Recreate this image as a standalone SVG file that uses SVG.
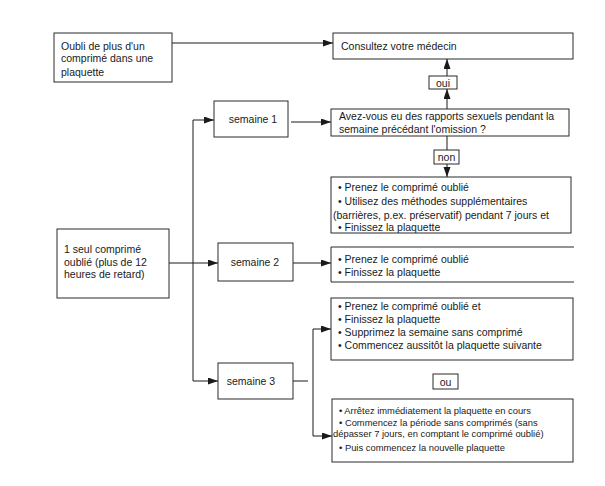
<svg xmlns="http://www.w3.org/2000/svg" width="605" height="486" viewBox="0 0 605 486">
<style>
.box{fill:#fff;stroke:#2a2a2a;stroke-width:1}
.t{font-family:"Liberation Sans",Arial,sans-serif;font-size:10.5px;fill:#1a1a1a}
.s{font-family:"Liberation Sans",Arial,sans-serif;font-size:9.4px;fill:#1a1a1a}
.c{stroke:#1a1a1a;stroke-width:1;fill:none}
.a{marker-end:url(#ah)}
</style>
<defs>
<marker id="ah" markerUnits="userSpaceOnUse" markerWidth="12" markerHeight="8" refX="10" refY="3.5" orient="auto">
<path d="M0,0 L10,3.5 L0,7 z" fill="#1a1a1a"/>
</marker>
</defs>
<rect width="605" height="486" fill="#fff"/>
<g id="connectors">
<path class="c a" d="M172,43 H333"/>
<path class="c a" d="M447,109 V89"/>
<path class="c a" d="M447,76 V59"/>
<path class="c" d="M447,136 V150"/>
<path class="c a" d="M447,164 V177"/>
<path class="c" d="M169,263 H193"/>
<path class="c a" d="M193,381 V120 H214"/>
<path class="c a" d="M193,263 H218"/>
<path class="c a" d="M193,381 H218"/>
<path class="c a" d="M291,122 H331"/>
<path class="c a" d="M293,263 H331"/>
<path class="c" d="M293,381 H308"/>
<path class="c" d="M313,329 V436"/>
<path class="c a" d="M313,329 H331"/>
<path class="c a" d="M313,436 H332"/>
</g>
<g id="oubli-plusieurs">
<rect class="box" x="54" y="33" width="118" height="49"/>
<text class="t" x="61" y="49.5">Oubli de plus d'un</text>
<text class="t" x="61" y="62">comprimé dans une</text>
<text class="t" x="61" y="75.5">plaquette</text>
</g>
<g id="consultez">
<rect class="box" x="333" y="33" width="240" height="26"/>
<text class="t" x="341" y="49.5">Consultez votre médecin</text>
</g>
<g id="oui">
<rect class="box" x="429" y="76" width="28" height="13"/>
<text class="t" x="443" y="86.5" text-anchor="middle">oui</text>
</g>
<g id="question">
<rect class="box" x="331" y="109" width="238" height="27"/>
<text class="t" x="339" y="119.5">Avez-vous eu des rapports sexuels pendant la</text>
<text class="t" x="339" y="132.5">semaine précédant l'omission ?</text>
</g>
<g id="non">
<rect class="box" x="434" y="150" width="25" height="14"/>
<text class="t" x="446.5" y="160.5" text-anchor="middle">non</text>
</g>
<g id="action-s1">
<rect class="box" x="331" y="177" width="240" height="56"/>
<text class="t" x="338" y="190.5">• Prenez le comprimé oublié</text>
<text class="t" x="338" y="205">• Utilisez des méthodes supplémentaires</text>
<text class="t" x="333" y="218.5">(barrières, p.ex. préservatif) pendant 7 jours et</text>
<text class="t" x="338" y="230.5">• Finissez la plaquette</text>
</g>
<g id="un-seul">
<rect class="box" x="57" y="229" width="112" height="69"/>
<text class="t" x="64" y="252.5">1 seul comprimé</text>
<text class="t" x="64" y="265.5">oublié (plus de 12</text>
<text class="t" x="64" y="277.5">heures de retard)</text>
</g>
<g id="semaine1">
<rect class="box" x="214" y="101" width="74" height="36"/>
<text class="t" x="253" y="122.5" text-anchor="middle">semaine 1</text>
</g>
<g id="semaine2">
<rect class="box" x="218" y="243" width="75" height="38"/>
<text class="t" x="255" y="265.5" text-anchor="middle">semaine 2</text>
</g>
<g id="action-s2">
<path class="box" d="M574,247 H331 V282 H574" fill="none"/>
<text class="t" x="338" y="262.5">• Prenez le comprimé oublié</text>
<text class="t" x="338" y="275.5">• Finissez la plaquette</text>
</g>
<g id="semaine3">
<rect class="box" x="218" y="363" width="75" height="36"/>
<text class="t" x="251" y="384.5" text-anchor="middle">semaine 3</text>
</g>
<g id="action-s3a">
<rect class="box" x="331" y="298" width="242" height="62"/>
<text class="t" x="338" y="309.5">• Prenez le comprimé oublié et</text>
<text class="t" x="338" y="322.5">• Finissez la plaquette</text>
<text class="t" x="338" y="335.5">• Supprimez la semaine sans comprimé</text>
<text class="t" x="338" y="348.5">• Commencez aussitôt la plaquette suivante</text>
</g>
<g id="ou">
<rect class="box" x="433" y="374" width="25" height="15"/>
<text class="t" x="445.5" y="385.5" text-anchor="middle">ou</text>
</g>
<g id="action-s3b">
<rect class="box" x="332" y="399" width="241" height="63"/>
<text class="s" x="339" y="414">• Arrêtez immédiatement la plaquette en cours</text>
<text class="s" x="339" y="426">• Commencez la période sans comprimés (sans</text>
<text class="s" x="333" y="437">dépasser 7 jours, en comptant le comprimé oublié)</text>
<text class="s" x="339" y="450.5">• Puis commencez la nouvelle plaquette</text>
</g>
</svg>
